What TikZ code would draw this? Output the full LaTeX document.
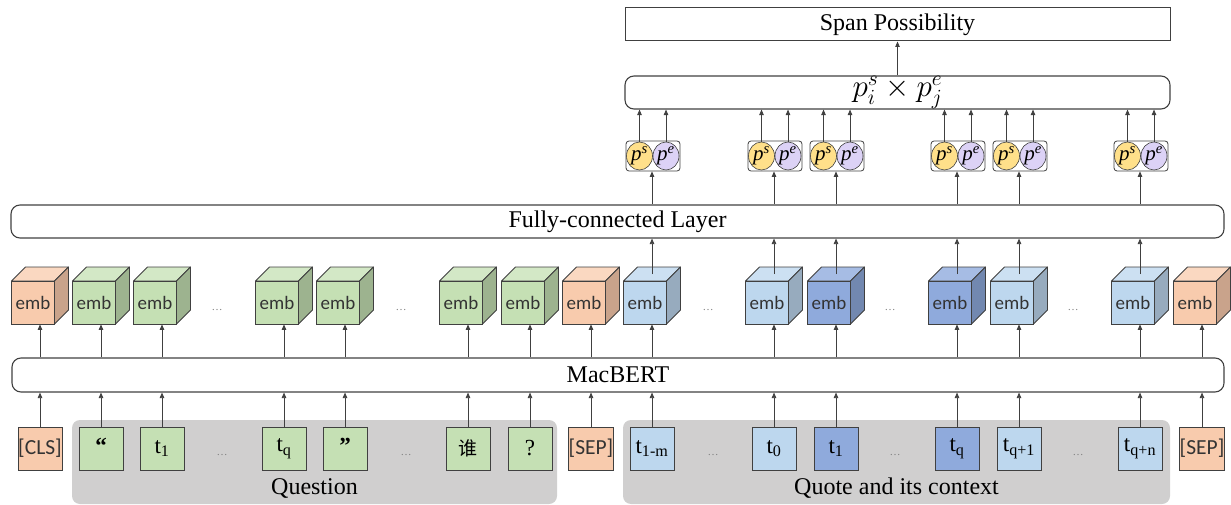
\documentclass[tikz,border=0pt]{standalone}
\usepackage{fontspec}
\setmainfont{Liberation Serif}
\newfontfamily\embfont{Carlito}
\newfontfamily\cjkfont{Noto Sans CJK SC}
\usetikzlibrary{arrows.meta,shapes.geometric}

% fills: F = front face / token box, T = top face, S = side face
\definecolor{orF}{HTML}{F8CBAD}\definecolor{orT}{HTML}{FAD8C1}\definecolor{orS}{HTML}{C9A38B}
\definecolor{grF}{HTML}{C5E0B4}\definecolor{grT}{HTML}{D3E8C6}\definecolor{grS}{HTML}{9DB38F}
\definecolor{lbF}{HTML}{BDD7EE}\definecolor{lbT}{HTML}{CCE0F2}\definecolor{lbS}{HTML}{97ABBE}
\definecolor{dbF}{HTML}{8FAADC}\definecolor{dbT}{HTML}{A6BCE4}\definecolor{dbS}{HTML}{7288B0}
\definecolor{edge}{HTML}{404040}
\definecolor{regiongray}{HTML}{D0CFCF}
\definecolor{psY}{HTML}{FFE08A}
\definecolor{peP}{HTML}{DCD2F6}

% embedding cube: #1 name, #2 column x, #3 colour prefix
\newcommand\embcube[3]{%
  \filldraw[#3T, draw=edge, line width=0.8pt, line join=round]
    (#2-28.5, 281) -- ++(14pt,14pt) -- ++(43pt,0pt) -- ++(-14pt,-14pt) -- cycle;
  \filldraw[#3S, draw=edge, line width=0.8pt, line join=round]
    (#2+14.5, 281) -- ++(14pt,14pt) -- ++(0pt,-43pt) -- ++(-14pt,-14pt) -- cycle;
  \node[front, fill=#3F] (#1) at (#2-7, 302.5) {emb};
  \coordinate (#1t) at (#2, 274);
}
% start/end probability pair: #1 name, #2 column x
\newcommand\sepair[2]{%
  \node[pairbox] (#1) at (#2+1, 156) {};
  \node[pell, fill=psY] (#1s) at (#2-12.5, 156) {\textit{p}\textsuperscript{\textit{s}}};
  \node[pell, fill=peP] (#1e) at (#2+14, 156) {\textit{p}\textsuperscript{\textit{e}}};
}

\begin{document}
\begin{tikzpicture}[x=1pt, y=-1pt,
  arr/.style={-{Triangle[length=5.5pt,width=4.5pt]}, draw=edge, line width=0.8pt},
  tok/.style={draw=edge, line width=1pt, minimum width=44pt, minimum height=43pt, inner sep=0pt,
              font=\fontsize{23}{25}\selectfont},
  tag/.style={tok, font=\embfont\fontsize{21.5}{23}\selectfont, text=black!80},
  front/.style={draw=edge, line width=0.8pt, minimum width=43pt, minimum height=43pt, inner sep=0pt,
                font=\embfont\fontsize{19}{21}\selectfont, text=black!80},
  bar/.style={draw=edge, line width=1.1pt, rounded corners=9pt, inner sep=0pt,
              font=\fontsize{24}{28}\selectfont},
  region/.style={fill=regiongray, rounded corners=8pt, inner sep=0pt},
  pairbox/.style={draw=edge, line width=0.8pt, rounded corners=3pt, minimum width=54pt, minimum height=30pt, inner sep=0pt},
  pell/.style={ellipse, draw=edge, line width=0.6pt, minimum width=26pt, minimum height=28pt, inner sep=0pt,
               font=\fontsize{21}{22}\selectfont},
  gap/.style={text=black!50, font=\fontsize{11}{12}\selectfont, inner sep=0pt},
  big/.style={font=\fontsize{24}{28}\selectfont, inner sep=0pt}]
\useasboundingbox (0,0) rectangle (1231,505);

% input groups
\node[region, minimum width=485pt, minimum height=84pt] (qreg) at (314.5, 462) {};
\node[region, minimum width=547pt, minimum height=84pt] (creg) at (896.5, 462) {};
\node[big] (qlab) at (314.5, 488) {Question};
\node[big] (clab) at (896.5, 488) {Quote and its context};

% input tokens
\node[tag, fill=orF] (k1) at (40, 448.5) {[CLS]};
\node[tok, fill=grF] (k2) at (101, 448.5) {\raisebox{6pt}{\textbf{“}}};
\node[tok, fill=grF] (k3) at (162, 448.5) {t\textsubscript{1}};
\node[tok, fill=grF] (k4) at (284, 448.5) {t\textsubscript{q}};
\node[tok, fill=grF] (k5) at (345, 448.5) {\raisebox{6pt}{\textbf{”}}};
\node[tok, fill=grF] (k6) at (468, 448.5) {\cjkfont\fontsize{19}{20}\selectfont 谁};
\node[tok, fill=grF] (k7) at (530, 448.5) {?};
\node[tag, fill=orF] (k8) at (591, 448.5) {[SEP]};
\node[tok, fill=lbF] (k9) at (652, 448.5) {t\textsubscript{1-m}};
\node[tok, fill=lbF] (k10) at (774, 448.5) {t\textsubscript{0}};
\node[tok, fill=dbF] (k11) at (836, 448.5) {t\textsubscript{1}};
\node[tok, fill=dbF] (k12) at (957, 448.5) {t\textsubscript{q}};
\node[tok, fill=lbF] (k13) at (1019, 448.5) {t\textsubscript{q+1}};
\node[tok, fill=lbF] (k14) at (1140, 448.5) {t\textsubscript{q+n}};
\node[tag, fill=orF] (k15) at (1202, 448.5) {[SEP]};
\foreach \x [count=\i] in {222, 406, 713, 895, 1078}
  \node[gap] (kd\i) at (\x, 455) {\dots};

% encoder and fully-connected layer
\node[bar, minimum width=1212pt, minimum height=34pt] (mb) at (618, 375) {MacBERT};
\node[bar, minimum width=1213pt, minimum height=33pt] (fc) at (617.5, 221.5) {Fully-connected Layer};

% token embeddings
\embcube{e1}{40}{or}
\embcube{e2}{101}{gr}
\embcube{e3}{162}{gr}
\embcube{e4}{284}{gr}
\embcube{e5}{345}{gr}
\embcube{e6}{468}{gr}
\embcube{e7}{530}{gr}
\embcube{e8}{591}{or}
\embcube{e9}{652}{lb}
\embcube{e10}{774}{lb}
\embcube{e11}{836}{db}
\embcube{e12}{957}{db}
\embcube{e13}{1019}{lb}
\embcube{e14}{1140}{lb}
\embcube{e15}{1202}{or}
\foreach \x [count=\i] in {217, 401, 708, 890, 1073}
  \node[gap] (ed\i) at (\x, 310) {\dots};

% tokens -> MacBERT -> embeddings
\foreach \i in {1,...,15} {
  \draw[arr] (k\i.north) -- (mb.south -| k\i);
  \draw[arr] (mb.north -| e\i t) -- (e\i.south -| e\i t);
}

% start / end probabilities for the context tokens
\sepair{p9}{652}
\sepair{p10}{774}
\sepair{p11}{836}
\sepair{p12}{957}
\sepair{p13}{1019}
\sepair{p14}{1140}

\node[bar, minimum width=545pt, minimum height=33pt] (pb) at (897.5, 92.5) {\scalebox{1.25}{$p_i^s \times p_j^e$}};
\node[draw=edge, line width=1pt, minimum width=545pt, minimum height=33pt, inner sep=0pt,
      font=\fontsize{24}{28}\selectfont] (sp) at (897.5, 24.5) {Span Possibility};

\foreach \i in {9,...,14} {
  \draw[arr] (e\i t) -- (fc.south -| e\i t);
  \draw[arr] (fc.north -| e\i t) -- (p\i.south -| e\i t);
  \draw[arr] (p\i s.north) -- (pb.south -| p\i s);
  \draw[arr] (p\i e.north) -- (pb.south -| p\i e);
}
\draw[arr] (pb.north -| sp) -- (sp.south);
\end{tikzpicture}
\end{document}
